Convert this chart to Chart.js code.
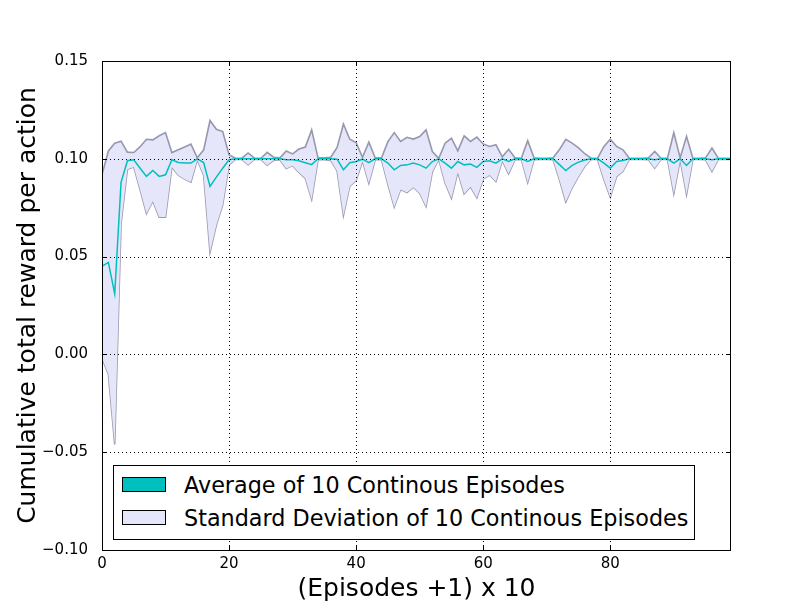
<!DOCTYPE html>
<html>
<head>
<meta charset="utf-8">
<script src="https://cdn.jsdelivr.net/npm/chart.js@4.4.1/dist/chart.umd.min.js"></script>
<style>
  html, body { margin: 0; padding: 0; background: #fff; }
  #wrap { position: relative; width: 812px; height: 612px; font-family: "DejaVu Sans", sans-serif; }
  #legend { position: absolute; left: 113px; top: 465px; width: 582px; height: 75px;
            box-sizing: border-box; border: 1px solid #000; background: #fff; }
  .row { position: absolute; left: 8px; height: 16px; }
  .sw { position: absolute; left: 0; top: 0; width: 44px; height: 15px; box-sizing: border-box; border: 1px solid #000; }
  .lbl { position: absolute; left: 62px; top: -5px; font-size: 22.3px; line-height: 26px; white-space: nowrap; color: #000; }
</style>
</head>
<body>
<div id="wrap">
  <canvas id="chart_one" width="812" height="612"></canvas>
  <div id="legend">
    <div class="row" style="top:11px"><div class="sw" style="background:#00bfbf"></div><span class="lbl">Average of 10 Continous Episodes</span></div>
    <div class="row" style="top:44px"><div class="sw" style="background:#e6e6fa"></div><span class="lbl">Standard Deviation of 10 Continous Episodes</span></div>
  </div>
</div>
<script>
// values, one per episode index 0..99
const meanReward = [
  0.045, 0.047, 0.031, 0.088, 0.099, 0.0995, 0.0952, 0.091, 0.094, 0.091,
  0.0918, 0.0995, 0.0981, 0.0978, 0.0978, 0.100, 0.0981, 0.0859, 0.0906, 0.0952,
  0.0995, 0.100, 0.100, 0.100, 0.100, 0.100, 0.100, 0.100, 0.100, 0.0995,
  0.0995, 0.099, 0.098, 0.097, 0.100, 0.100, 0.100, 0.0998, 0.0944, 0.098,
  0.0986, 0.0998, 0.098, 0.100, 0.100, 0.0978, 0.0944, 0.0966, 0.0969, 0.0978,
  0.0969, 0.0952, 0.0986, 0.100, 0.0978, 0.0952, 0.0986, 0.0969, 0.0973, 0.0956,
  0.0986, 0.099, 0.0978, 0.100, 0.0986, 0.100, 0.100, 0.0986, 0.100, 0.100,
  0.100, 0.100, 0.097, 0.094, 0.0966, 0.0983, 0.0994, 0.100, 0.100, 0.0978,
  0.0952, 0.0986, 0.0991, 0.100, 0.100, 0.100, 0.100, 0.0995, 0.100, 0.100,
  0.0978, 0.100, 0.0966, 0.100, 0.100, 0.100, 0.0995, 0.100, 0.100, 0.100
];
const stdReward = [
  0.047, 0.057, 0.077, 0.021, 0.0044, 0.0037, 0.011, 0.019, 0.0157, 0.0208,
  0.0216, 0.0037, 0.0065, 0.0082, 0.0097, 0.0005, 0.0065, 0.0337, 0.0245, 0.0187,
  0.0026, 0.0003, 0.0003, 0.003, 0.0003, 0.0003, 0.0033, 0.0008, 0.0005, 0.0045,
  0.003, 0.006, 0.008, 0.0178, 0.0005, 0.0005, 0.0008, 0.006, 0.0234, 0.012,
  0.0097, 0.001, 0.0105, 0.0005, 0.0005, 0.011, 0.019, 0.0123, 0.0141, 0.0123,
  0.0145, 0.0196, 0.0051, 0.0003, 0.0102, 0.0153, 0.0055, 0.0148, 0.0116, 0.0155,
  0.009, 0.0073, 0.0094, 0.001, 0.0063, 0.0005, 0.0003, 0.0107, 0.0005, 0.0003,
  0.0003, 0.0005, 0.0077, 0.016, 0.0114, 0.0073, 0.0032, 0.0003, 0.0003, 0.0085,
  0.0148, 0.0077, 0.0055, 0.0003, 0.0003, 0.0003, 0.0005, 0.0043, 0.0003, 0.0003,
  0.0156, 0.0005, 0.0149, 0.0003, 0.0003, 0.0005, 0.006, 0.0003, 0.0003, 0.0003
];
const xTickValues = [0, 20, 40, 60, 80];
const yTickValues = [-0.10, -0.05, 0.00, 0.05, 0.10, 0.15];
const yTickLabels = ['\u22120.10', '\u22120.05', '0.00', '0.05', '0.10', '0.15'];

const episodes = meanReward.map((v, i) => i);
const meanPts = episodes.map(i => ({x: i, y: meanReward[i]}));
const upperPts = episodes.map(i => ({x: i, y: meanReward[i] + stdReward[i]}));
const lowerPts = episodes.map(i => ({x: i, y: meanReward[i] - stdReward[i]}));

// dotted grid over the band, plus matplotlib-style box and inward ticks
const frame = {
  id: 'frame',
  afterDatasetsDraw(chart) {
    const {ctx, chartArea: a, scales: {x, y}} = chart;
    ctx.save();
    ctx.strokeStyle = '#000';
    ctx.lineWidth = 1;
    ctx.setLineDash([1, 3]);
    xTickValues.forEach(v => {
      const px = Math.round(x.getPixelForValue(v)) + 0.5;
      ctx.beginPath(); ctx.moveTo(px, a.top); ctx.lineTo(px, a.bottom); ctx.stroke();
    });
    yTickValues.forEach(v => {
      const py = Math.round(y.getPixelForValue(v)) + 0.5;
      ctx.beginPath(); ctx.moveTo(a.left, py); ctx.lineTo(a.right, py); ctx.stroke();
    });
    ctx.setLineDash([]);
    xTickValues.forEach(v => {
      const px = Math.round(x.getPixelForValue(v)) + 0.5;
      ctx.beginPath();
      ctx.moveTo(px, a.bottom); ctx.lineTo(px, a.bottom - 5);
      ctx.moveTo(px, a.top); ctx.lineTo(px, a.top + 5);
      ctx.stroke();
    });
    yTickValues.forEach(v => {
      const py = Math.round(y.getPixelForValue(v)) + 0.5;
      ctx.beginPath();
      ctx.moveTo(a.left, py); ctx.lineTo(a.left + 5, py);
      ctx.moveTo(a.right, py); ctx.lineTo(a.right - 5, py);
      ctx.stroke();
    });
    ctx.strokeRect(Math.round(a.left) + 0.5, Math.round(a.top) + 0.5,
                   Math.round(a.right - a.left) - 1, Math.round(a.bottom - a.top));
    ctx.restore();
  }
};

new Chart(document.getElementById('chart_one'), {
  type: 'line',
  data: {
    datasets: [
      {
        label: 'Average of 10 Continous Episodes',
        data: meanPts,
        borderColor: '#00bfbf',
        borderWidth: 1.5,
        pointRadius: 0,
        fill: false,
        order: 0
      },
      {
        label: 'upper',
        data: upperPts,
        borderColor: 'rgba(120,120,150,0.75)',
        borderWidth: 1.6,
        backgroundColor: '#e6e6fa',
        pointRadius: 0,
        fill: '+1',
        order: 1
      },
      {
        label: 'lower',
        data: lowerPts,
        borderColor: 'rgba(120,120,150,0.75)',
        borderWidth: 1.6,
        pointRadius: 0,
        fill: false,
        order: 2
      }
    ]
  },
  options: {
    responsive: false,
    devicePixelRatio: 1,
    animation: false,
    layout: { padding: { top: 61, right: 81, left: 0, bottom: 0 } },
    plugins: { legend: { display: false }, tooltip: { enabled: false } },
    scales: {
      x: {
        type: 'linear',
        min: 0,
        max: 99,
        afterBuildTicks: s => { s.ticks = xTickValues.map(v => ({value: v})); },
        afterFit: s => { s.height = 62; },
        grid: { display: false },
        border: { display: false },
        ticks: { color: '#000', padding: -3, maxRotation: 0, font: { family: 'DejaVu Sans', size: 15 } },
        title: {
          display: true,
          text: '(Episodes +1) x 10',
          color: '#000',
          font: { family: 'DejaVu Sans', size: 25, lineHeight: 1 },
          padding: { top: 0, bottom: 10 }
        }
      },
      y: {
        type: 'linear',
        min: -0.10,
        max: 0.15,
        afterBuildTicks: s => { s.ticks = yTickValues.map(v => ({value: v})); },
        afterFit: s => { s.width = 102; },
        grid: { display: false },
        border: { display: false },
        ticks: {
          color: '#000',
          padding: 6,
          font: { family: 'DejaVu Sans', size: 15 },
          callback: (v) => yTickLabels[yTickValues.findIndex(t => Math.abs(t - v) < 1e-9)]
        },
        title: {
          display: true,
          text: 'Cumulative total reward per action',
          color: '#000',
          font: { family: 'DejaVu Sans', size: 25, lineHeight: 1 },
          padding: { top: 16, bottom: 0 }
        }
      }
    }
  },
  plugins: [frame]
});
</script>
</body>
</html>
